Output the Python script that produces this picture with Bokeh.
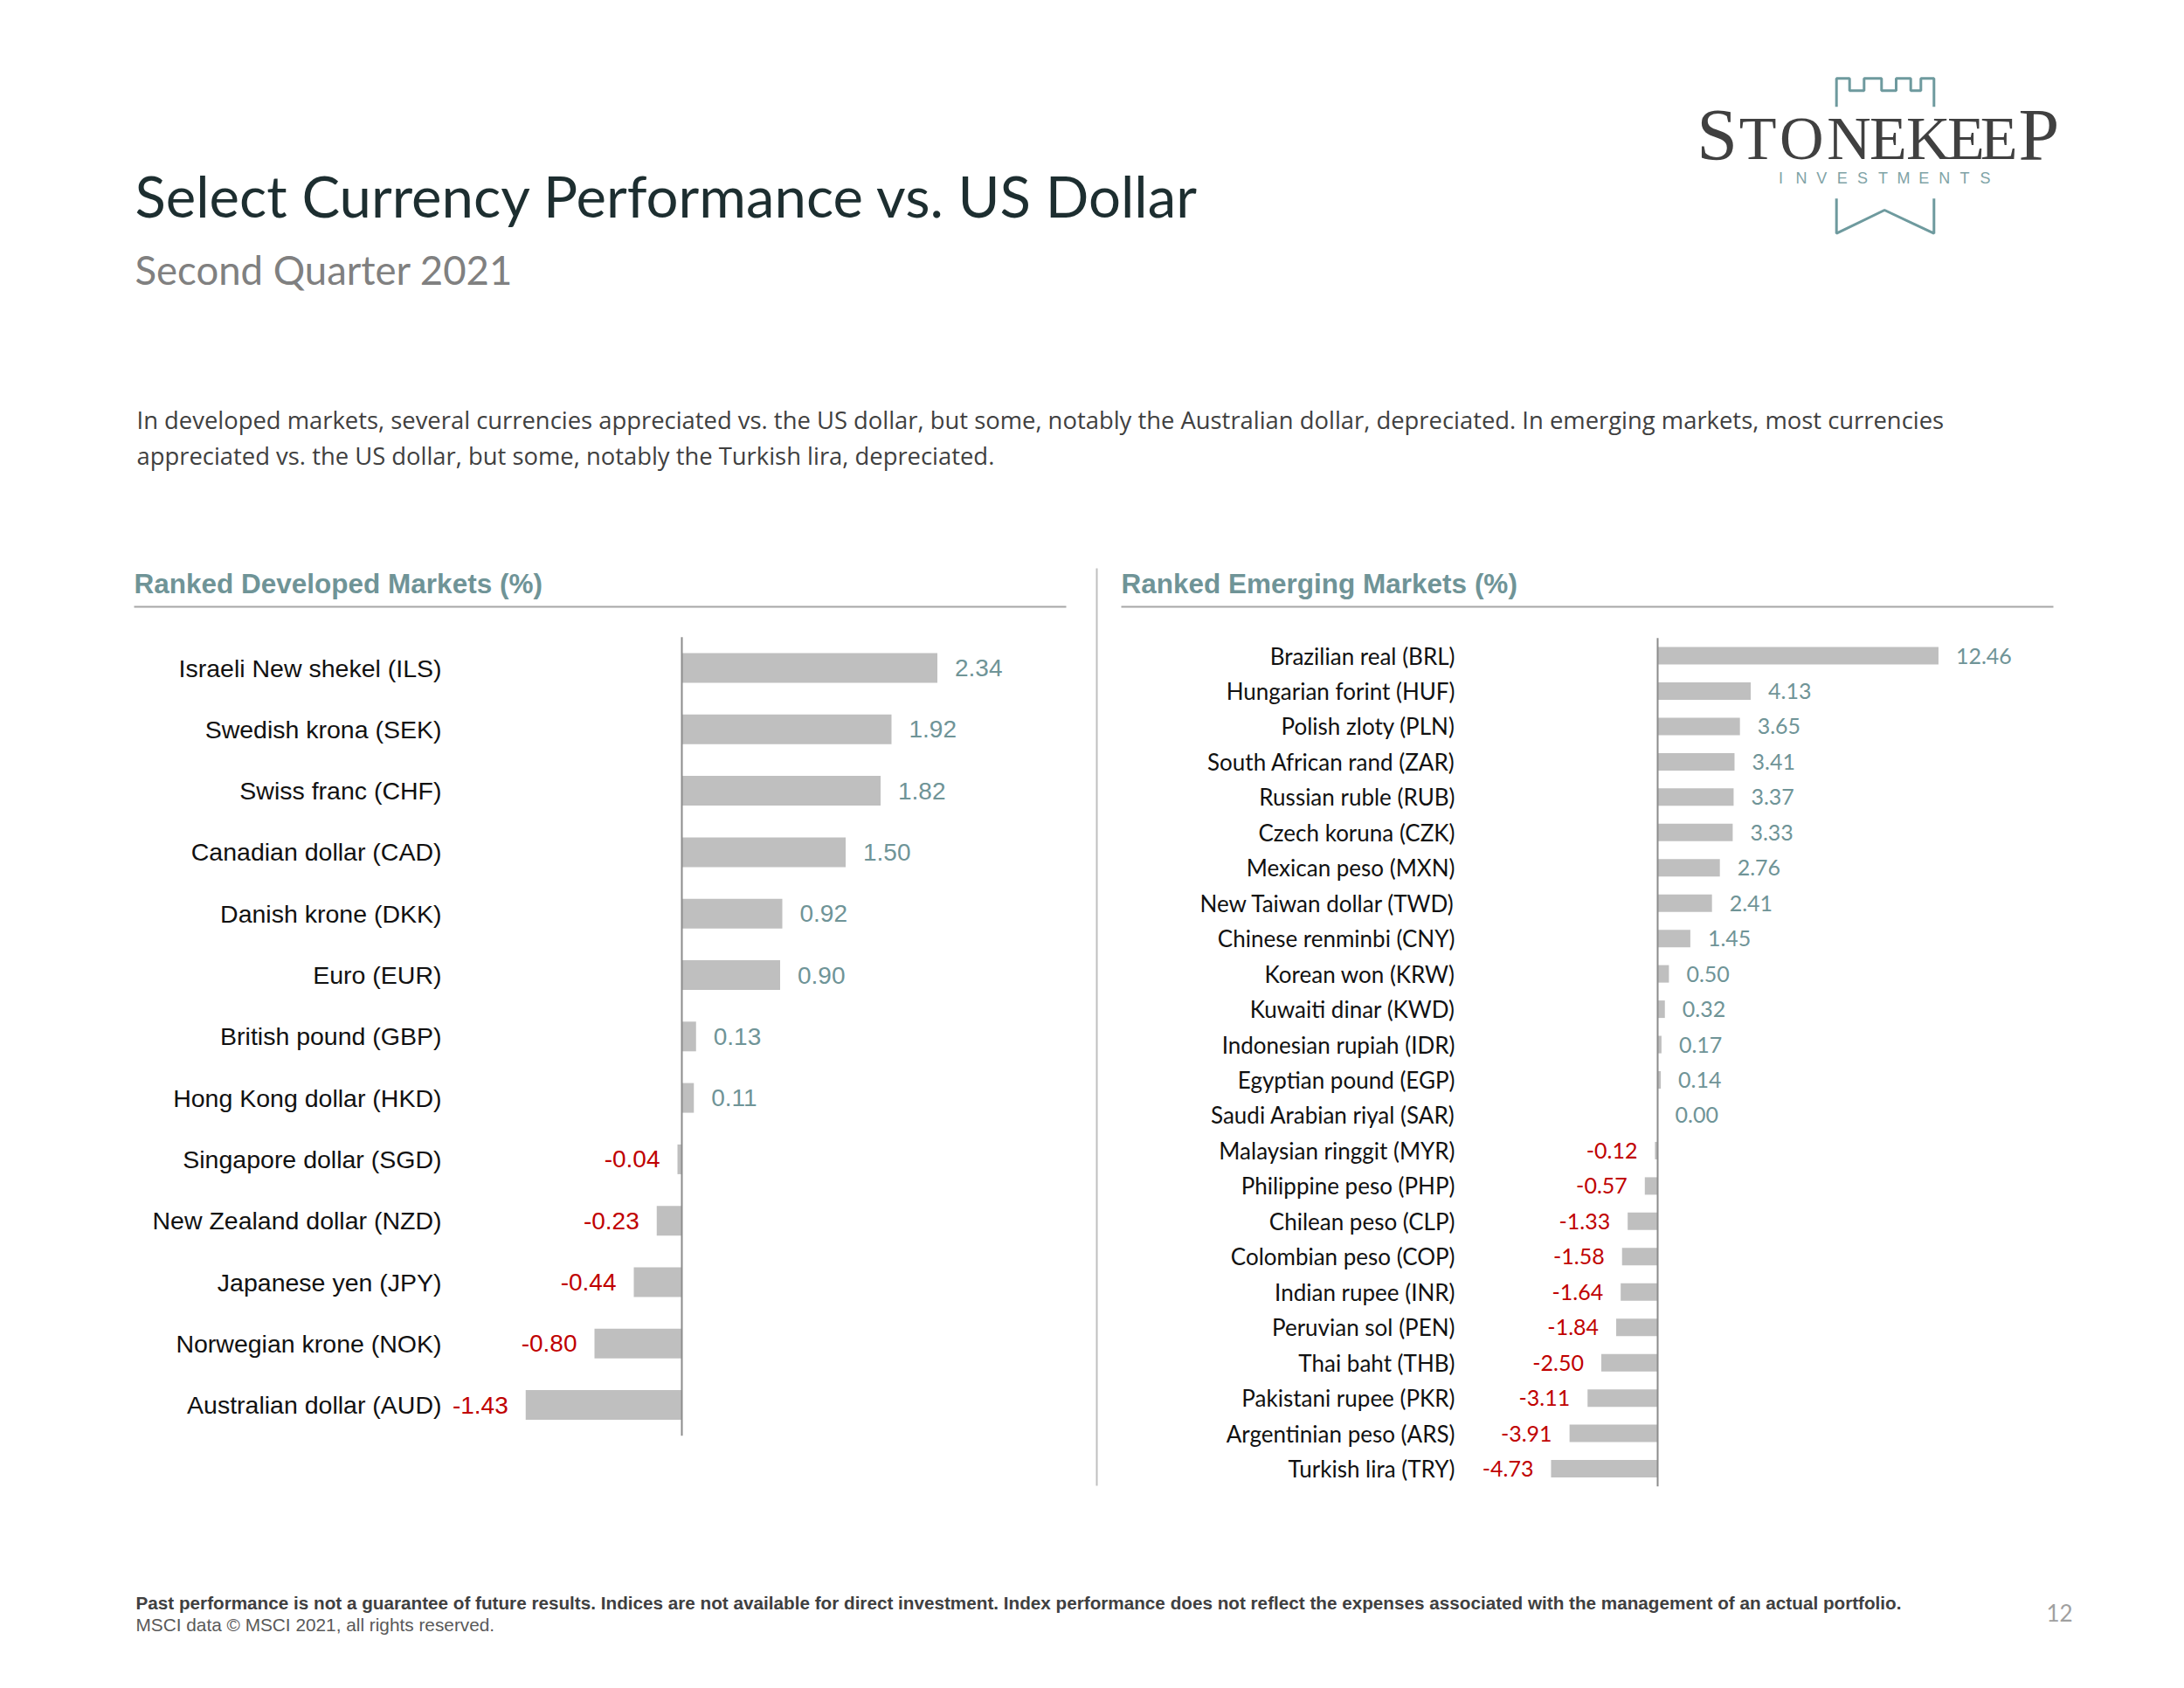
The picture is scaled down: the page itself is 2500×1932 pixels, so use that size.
from bokeh.plotting import figure
from bokeh.models import Range1d, ColumnDataSource
from bokeh.core.properties import value
from bokeh.embed import file_html
from bokeh.resources import INLINE

# ---------------- data ----------------
dev_names = ["Israeli New shekel (ILS)", "Swedish krona (SEK)", "Swiss franc (CHF)",
             "Canadian dollar (CAD)", "Danish krone (DKK)", "Euro (EUR)",
             "British pound (GBP)", "Hong Kong dollar (HKD)", "Singapore dollar (SGD)",
             "New Zealand dollar (NZD)", "Japanese yen (JPY)", "Norwegian krone (NOK)",
             "Australian dollar (AUD)"]
dev_values = [2.34, 1.92, 1.82, 1.50, 0.92, 0.90, 0.13, 0.11, -0.04, -0.23, -0.44, -0.80, -1.43]

em_names = ["Brazilian real (BRL)", "Hungarian forint (HUF)", "Polish zloty (PLN)",
            "South African rand (ZAR)", "Russian ruble (RUB)", "Czech koruna (CZK)",
            "Mexican peso (MXN)", "New Taiwan dollar (TWD)", "Chinese renminbi (CNY)",
            "Korean won (KRW)", "Kuwaiti dinar (KWD)", "Indonesian rupiah (IDR)",
            "Egyptian pound (EGP)", "Saudi Arabian riyal (SAR)", "Malaysian ringgit (MYR)",
            "Philippine peso (PHP)", "Chilean peso (CLP)", "Colombian peso (COP)",
            "Indian rupee (INR)", "Peruvian sol (PEN)", "Thai baht (THB)",
            "Pakistani rupee (PKR)", "Argentinian peso (ARS)", "Turkish lira (TRY)"]
em_values = [12.46, 4.13, 3.65, 3.41, 3.37, 3.33, 2.76, 2.41, 1.45, 0.50, 0.32, 0.17, 0.14,
             0.00, -0.12, -0.57, -1.33, -1.58, -1.64, -1.84, -2.50, -3.11, -3.91, -4.73]

title_text = "Select Currency Performance vs. US Dollar"
subtitle_text = "Second Quarter 2021"
desc_lines = ["In developed markets, several currencies appreciated vs. the US dollar, but some, notably the Australian dollar, depreciated. In emerging markets, most currencies",
              "appreciated vs. the US dollar, but some, notably the Turkish lira, depreciated."]
dev_header = "Ranked Developed Markets (%)"
em_header = "Ranked Emerging Markets (%)"
foot1 = "Past performance is not a guarantee of future results. Indices are not available for direct investment. Index performance does not reflect the expenses associated with the management of an actual portfolio."
foot2 = "MSCI data \u00a9 MSCI 2021, all rights reserved."
page_no = "12"

# ---------------- styles ----------------
BAR = "#BFBFBF"
POS = "#6F9497"
NEG = "#C00000"
TEAL = "#6F9497"
ARIAL = value("Liberation Sans")
CAL = value("Lato")

W, H = 2484, 1916
OFF = 0
p = figure(width=W, height=H, x_range=Range1d(OFF, OFF + W), y_range=Range1d(OFF + H, OFF),
           output_backend="svg", toolbar_location=None, x_axis_location=None,
           y_axis_location=None, min_border=0, outline_line_color=None,
           background_fill_color="white", border_fill_color="white")
p.xgrid.visible = False
p.ygrid.visible = False

# chart scales (value -> page pixel)
DEV0, DEVK, DEVY0, DEVDY = 780, 125.0, 764, 70.3
EM0, EMK, EMY0, EMDY = 1897, 25.8, 750, 40.46
p.extra_x_ranges = {
    "dev_x": Range1d((OFF - DEV0) / DEVK, (OFF + W - DEV0) / DEVK),
    "em_x": Range1d((OFF - EM0) / EMK, (OFF + W - EM0) / EMK),
}
p.extra_y_ranges = {
    "dev_y": Range1d((OFF + H - DEVY0) / DEVDY, (OFF - DEVY0) / DEVDY),
    "em_y": Range1d((OFF + H - EMY0) / EMDY, (OFF - EMY0) / EMDY),
}


def draw_chart(names, vals, xr, yr, bar_h, cat_x_px, font, cat_size, val_size):
    n = len(names)
    idx = list(range(n))
    src = ColumnDataSource(dict(y=idx, v=vals, name=names))
    p.hbar(y="y", left=0, right="v", height=bar_h, source=src, color=BAR,
           line_color=None, x_range_name=xr, y_range_name=yr)
    # zero line
    p.segment(x0=[0], x1=[0], y0=[-0.5], y1=[n - 0.5], line_color="#8C8C8C",
              line_width=2, x_range_name=xr, y_range_name=yr)
    pos = ColumnDataSource(dict(y=[i for i in idx if vals[i] >= 0],
                                v=[vals[i] for i in idx if vals[i] >= 0],
                                lab=[f"{vals[i]:.2f}" for i in idx if vals[i] >= 0]))
    neg = ColumnDataSource(dict(y=[i for i in idx if vals[i] < 0],
                                v=[vals[i] for i in idx if vals[i] < 0],
                                lab=[f"{vals[i]:.2f}" for i in idx if vals[i] < 0]))
    p.text(x="v", y="y", text="lab", source=pos, x_offset=20, text_align="left",
           text_baseline="middle", text_font=font, text_font_size=val_size,
           text_color=POS, x_range_name=xr, y_range_name=yr)
    p.text(x="v", y="y", text="lab", source=neg, x_offset=-20, text_align="right",
           text_baseline="middle", text_font=font, text_font_size=val_size,
           text_color=NEG, x_range_name=xr, y_range_name=yr)
    # category labels, right aligned at a fixed distance left of the zero line
    p.text(x=0, y="y", text="name", source=src, x_offset=cat_x_px, text_align="right",
           text_baseline="middle", text_font=font, text_font_size=cat_size,
           text_color="#111111", x_range_name=xr, y_range_name=yr)


draw_chart(dev_names, dev_values, "dev_x", "dev_y", 34 / DEVDY, 505 - DEV0, ARIAL, "28.5px", "28px")
draw_chart(em_names, em_values, "em_x", "em_y", 20 / EMDY, 1665 - EM0, CAL, "26px", "25px")

# ---------------- page texts ----------------
p.text(x=[154], y=[223], text=[title_text], text_font=CAL, text_font_size="65.3px",
       text_baseline="middle", text_color="#1D2E30")
p.text(x=[154], y=[308], text=[subtitle_text], text_font=CAL, text_font_size="45.5px",
       text_baseline="middle", text_color="#808080")
p.text(x=[156, 156], y=[480, 521], text=desc_lines, text_font=value("Open Sans"),
       text_font_size="27.4px", text_baseline="middle", text_color="#404040")

p.text(x=[153, 1283], y=[667, 667], text=[dev_header, em_header], text_font=ARIAL,
       text_font_style="bold", text_font_size="31.5px", text_baseline="middle",
       text_color=TEAL)
p.segment(x0=[153, 1283], x1=[1220, 2350], y0=[694, 694], y1=[694, 694],
          line_color="#A6A6A6", line_width=2)
p.segment(x0=[1255], x1=[1255], y0=[650], y1=[1700], line_color="#BFBFBF", line_width=2)

p.text(x=[155], y=[1834], text=[foot1], text_font=ARIAL, text_font_style="bold",
       text_font_size="20.7px", text_baseline="middle", text_color="#404040")
p.text(x=[155], y=[1859], text=[foot2], text_font=ARIAL, text_font_size="20.8px",
       text_baseline="middle", text_color="#595959")
p.text(x=[2357], y=[1845], text=[page_no], text_font=CAL, text_font_size="26px",
       text_align="center", text_baseline="middle", text_color="#A0A0A0")

# ---------------- logo ----------------
LOGO_TEAL = "#6E9A9E"
p.line(x=[2101.7, 2101.7, 2116.7, 2116.7, 2133.3, 2133.3, 2153.3, 2153.3, 2170, 2170,
          2186.7, 2186.7, 2198.3, 2198.3, 2213.3, 2213.3],
       y=[121.7, 89.3, 89.3, 103.3, 103.3, 89.3, 89.3, 103.3, 103.3, 89.3, 89.3, 103.3,
          103.3, 89.3, 89.3, 121.7], line_color=LOGO_TEAL, line_width=3)
p.line(x=[2101.7, 2101.7, 2156.7, 2213.3, 2213.3], y=[226.7, 266.7, 240, 266.7, 226.7],
       line_color=LOGO_TEAL, line_width=3)
logo_letters = list("STONEKEEP")
logo_x = [1965, 2011.7, 2061.7, 2116, 2161, 2206.7, 2250, 2287.7, 2333.3]
logo_sz = ["84px", "70px", "70px", "70px", "70px", "70px", "70px", "70px", "84px"]
logo_y = [154, 158, 158, 158, 158, 158, 158, 158, 154]
p.text(x=logo_x, y=logo_y, text=logo_letters, text_font=value("Liberation Serif"),
       text_font_size=logo_sz, text_align="center", text_baseline="middle",
       text_color="#404040")
inv = list("INVESTMENTS")
inv_x = [2038 + i * 23.4 for i in range(len(inv))]
p.text(x=inv_x, y=[203.5] * len(inv), text=inv, text_font=value("Liberation Sans"),
       text_font_size="18px", text_align="center", text_baseline="middle",
       text_color="#7FA3A6")

open("out.html", "w").write(file_html(p, INLINE))
